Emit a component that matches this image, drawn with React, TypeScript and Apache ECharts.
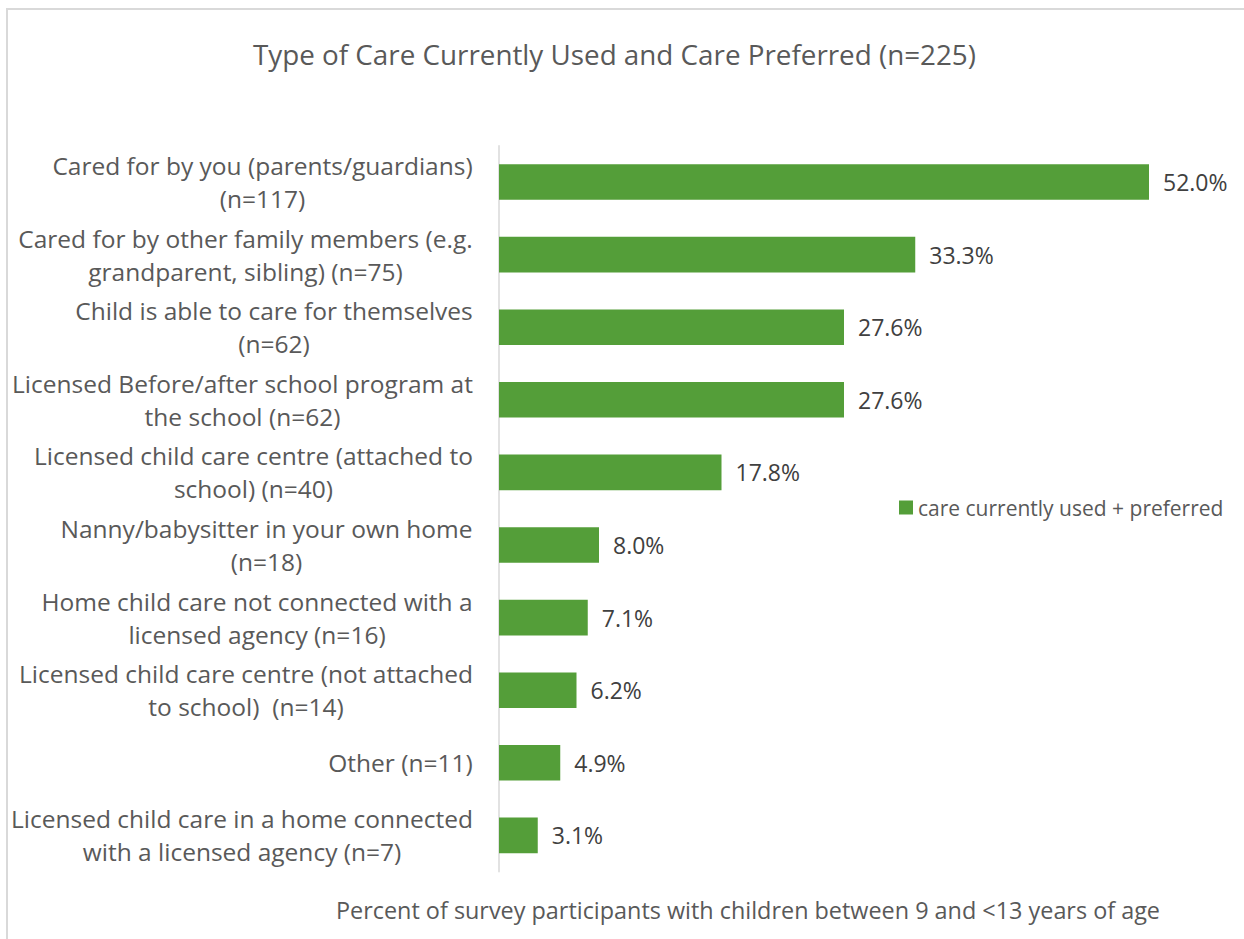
import React, { useEffect, useRef } from "react";
import * as echarts from "echarts";

// Care types, listed top to bottom (each line of a label is one entry)
const categoryLines: string[][] = [
  ["Cared for by you (parents/guardians)", "(n=117)"],
  ["Cared for by other family members (e.g.", "grandparent, sibling) (n=75)"],
  ["Child is able to care for themselves", "(n=62)"],
  ["Licensed Before/after school program at", "the school (n=62)"],
  ["Licensed child care centre (attached to", "school) (n=40)"],
  ["Nanny/babysitter in your own home", "(n=18)"],
  ["Home child care not connected with a", "licensed agency (n=16)"],
  ["Licensed child care centre (not attached", "to school)  (n=14)"],
  ["Other (n=11)"],
  ["Licensed child care in a home connected", "with a licensed agency (n=7)"],
];

// Percent of participants
const careValues: number[] = [52.0, 33.3, 27.6, 27.6, 17.8, 8.0, 7.1, 6.2, 4.9, 3.1];

const seriesName = "care currently used + preferred";
const chartTitle = "Type of Care Currently Used and Care Preferred (n=225)";
const axisTitle = "Percent of survey participants with children between 9 and <13 years of age";

const FONT = "'Open Sans', 'Noto Sans', sans-serif";
const LABEL_SIZE = 24.5;

const categories = categoryLines.map((lines) => lines.join("\n"));

// Width of the widest line of each label, so the lines can be centred on each other
function measureWidths(): number[] {
  const ctx = document.createElement("canvas").getContext("2d");
  if (!ctx) return categoryLines.map(() => 420);
  ctx.font = `${LABEL_SIZE}px 'Open Sans'`;
  return categoryLines.map((lines) =>
    Math.ceil(Math.max(...lines.map((l) => ctx.measureText(l).width)))
  );
}

export default function App() {
  const ref = useRef<HTMLDivElement>(null);

  useEffect(() => {
    if (!ref.current) return;
    const chart = echarts.init(ref.current, undefined, { renderer: "svg" });
    const widths = measureWidths();
    const rich: Record<string, any> = {};
    widths.forEach((w, i) => {
      rich["c" + i] = {
        width: w,
        align: "center",
        fontFamily: FONT,
        fontSize: LABEL_SIZE,
        color: "#595959",
        lineHeight: 33,
      };
    });

    chart.setOption({
      animation: false,
      backgroundColor: "#ffffff",
      textStyle: { fontFamily: FONT },
      title: {
        text: chartTitle,
        left: 248,
        top: 35,
        textStyle: { fontFamily: FONT, fontSize: 27.8, fontWeight: "normal", color: "#595959" },
      },
      legend: {
        data: [seriesName],
        left: 894,
        top: 492,
        icon: "rect",
        itemWidth: 14,
        itemHeight: 14,
        itemGap: 6,
        textStyle: { fontFamily: FONT, fontSize: 21, color: "#595959", padding: [0, 0, 0, 0] },
      },
      grid: { left: 499, top: 145.7, height: 726, width: 700 },
      xAxis: {
        type: "value",
        min: 0,
        max: 56,
        show: false,
      },
      yAxis: {
        type: "category",
        data: categories,
        inverse: true,
        axisLine: { show: true, lineStyle: { color: "#d9d9d9", width: 1.5 } },
        axisTick: { show: false },
        splitLine: { show: false },
        axisLabel: {
          fontFamily: FONT,
          fontSize: LABEL_SIZE,
          color: "#595959",
          align: "right",
          margin: 26,
          lineHeight: 33,
          rich,
          formatter: (_v: string, idx: number) =>
            categoryLines[idx].map((l) => `{c${idx}|${l}}`).join("\n"),
        },
      },
      graphic: [
        {
          type: "rect",
          shape: { x: 7, y: 9, width: 1400, height: 1100 },
          style: { fill: "none", stroke: "#d9d9d9", lineWidth: 2 },
          z: -1,
        },
        {
          type: "text",
          x: 748,
          y: 910,
          style: {
            text: axisTitle,
            fontFamily: FONT,
            fontSize: 23.4,
            fill: "#595959",
            align: "center",
            verticalAlign: "middle",
          },
        },
      ],
      series: [
        {
          name: seriesName,
          type: "bar",
          data: careValues,
          barWidth: "49%",
          itemStyle: { color: "#549E39" },
          label: {
            show: true,
            position: "right",
            distance: 14,
            fontFamily: FONT,
            fontSize: 23,
            color: "#404040",
            formatter: (p: any) => p.value.toFixed(1) + "%",
          },
        },
      ],
    });
    return () => chart.dispose();
  }, []);

  return (
    <div
      ref={ref}
      style={{ position: "absolute", left: 0, top: 0, width: 1244, height: 939 }}
    />
  );
}
